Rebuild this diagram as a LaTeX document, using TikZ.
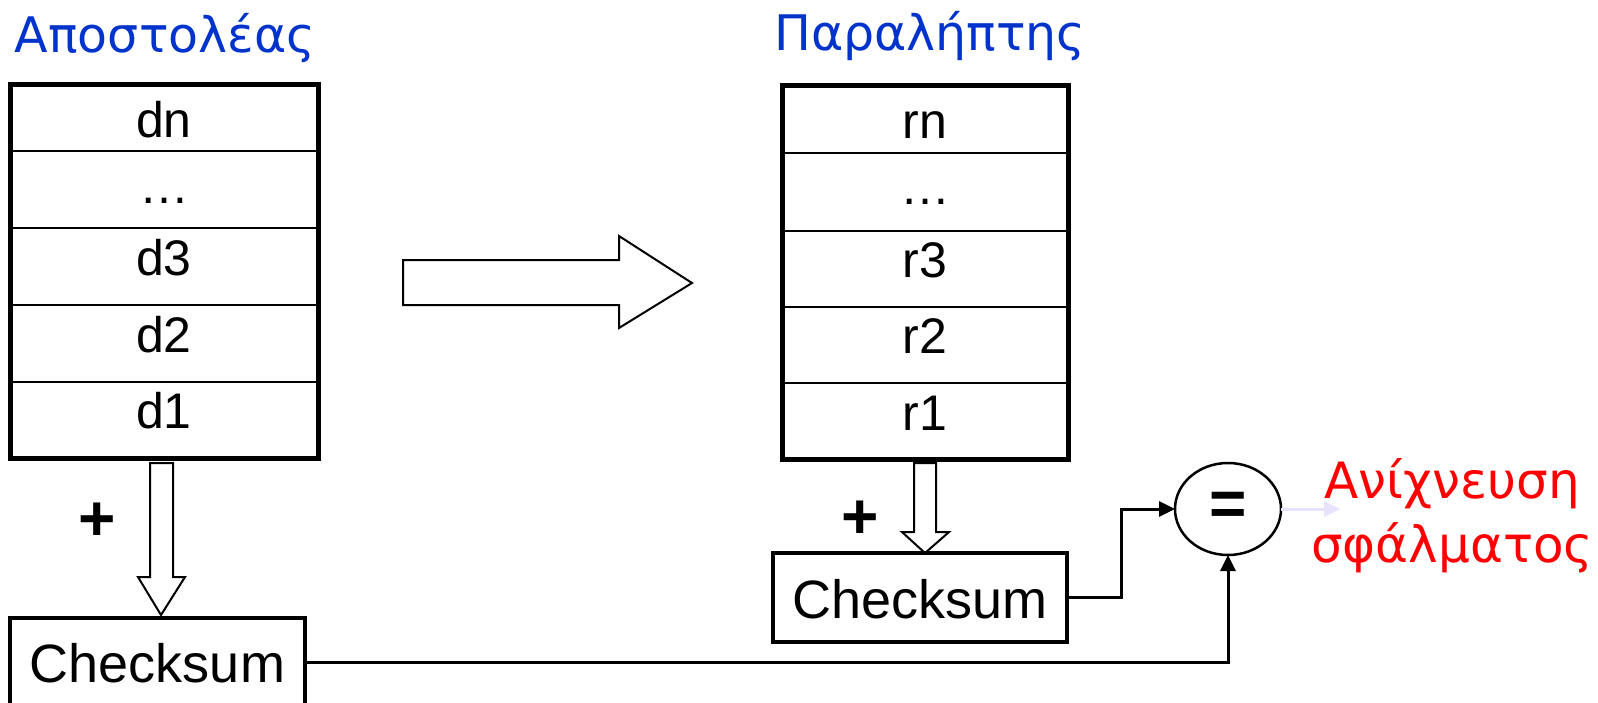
\documentclass[tikz,border=0pt]{standalone}
\usepackage{fontspec}
\setmainfont{Liberation Sans}
\newfontfamily\greekfont{DejaVu Sans}
\usetikzlibrary{arrows.meta,shapes.geometric}
\definecolor{ttlblue}{HTML}{0033CC}
\definecolor{errred}{HTML}{FF0000}
\definecolor{lav}{HTML}{E8E2FF}
\begin{document}
\begin{tikzpicture}[x=1pt,y=-1pt,
  every node/.style={inner sep=0pt,outer sep=0pt},
  celltxt/.style={font=\fontsize{50}{60}\selectfont,anchor=base},
  ttl/.style={font=\greekfont\fontsize{49}{58}\selectfont,text=ttlblue,anchor=base},
  errtxt/.style={font=\greekfont\fontsize{50}{60}\selectfont,text=errred,anchor=base},
  outerline/.style={line width=5pt},
  innerline/.style={line width=2.5pt},
  hollow/.style={draw,line width=2pt,fill=white,line join=miter},
  sumbox/.style={draw,rectangle,line width=3.5pt},
  sumtxt/.style={font=\fontsize{54}{60}\selectfont,anchor=base},
  conn/.style={line width=3pt,-{Triangle[length=16pt,width=15pt]}},
  plus/.style={font=\bfseries\fontsize{64}{70}\selectfont}
]
\useasboundingbox (0,0) rectangle (1598,702);
\clip (0,0) rectangle (1598,702);

% titles
\node[ttl] (tsend) at (165,52) {Αποστολέας};
\node[ttl] (trecv) at (930,50) {Παραλήπτης};

% sender table
\foreach \y in {151,228,305,382} \draw[innerline] (10,\y) -- (318,\y);
\draw[outerline] (10,84) rectangle (318,458);
\node[celltxt] (dn) at (164,137) {dn};
\node[celltxt] (ddots) at (164,203) {…};
\node[celltxt] (d3) at (164,275) {d3};
\node[celltxt] (d2) at (164,352) {d2};
\node[celltxt] (d1) at (164,428) {d1};

% receiver table
\foreach \y in {153,231,307,383} \draw[innerline] (782,\y) -- (1068,\y);
\draw[outerline] (782,85) rectangle (1068,459);
\node[celltxt] (rn) at (925,138) {rn};
\node[celltxt] (rdots) at (925,204) {…};
\node[celltxt] (r3) at (925,277) {r3};
\node[celltxt] (r2) at (925,353) {r2};
\node[celltxt] (r1) at (925,430) {r1};

% transmission arrow
\draw[hollow] (403,260) -- (619,260) -- (619,236) -- (692,283) -- (619,328) -- (619,305) -- (403,305) -- cycle;

% sender down arrow
\draw[hollow] (150,463) -- (173,463) -- (173,577) -- (185,577) -- (161,615) -- (138,577) -- (150,577) -- cycle;
\node[plus] (p1) at (97,522) {+};

% receiver down arrow
\draw[hollow] (914,463) -- (936,463) -- (936,532) -- (949,532) -- (925,553) -- (902,532) -- (914,532) -- cycle;
\node[plus] (p2) at (860,520) {+};

% checksum boxes
\node[sumbox,minimum width=295pt,minimum height=88pt] (sc) at (157.5,662) {};
\node[sumtxt] (sctxt) at (157.5,682) {Checksum};
\node[sumbox,minimum width=294pt,minimum height=89pt] (rc) at (920,597.5) {};
\node[sumtxt] (rctxt) at (920,618) {Checksum};

% comparison
\node[draw,ellipse,line width=2.5pt,minimum width=106pt,minimum height=92pt,font=\bfseries\fontsize{64}{70}\selectfont] (eq) at (1228,509) {=};

\draw[conn] (rc.east) -- ++(54,0) |- (eq.west);
\draw[conn] (sc.east) -| (eq.south);

\coordinate (errpt) at (1340,509);
\draw[lav,line width=3pt,-{Triangle[length=16pt,width=15pt]}] (eq.east) -- (errpt);

\node[errtxt] (err1) at (1452,498) {Ανίχνευση};
\node[errtxt] (err2) at (1452,562) {σφάλματος};
\end{tikzpicture}
\end{document}
